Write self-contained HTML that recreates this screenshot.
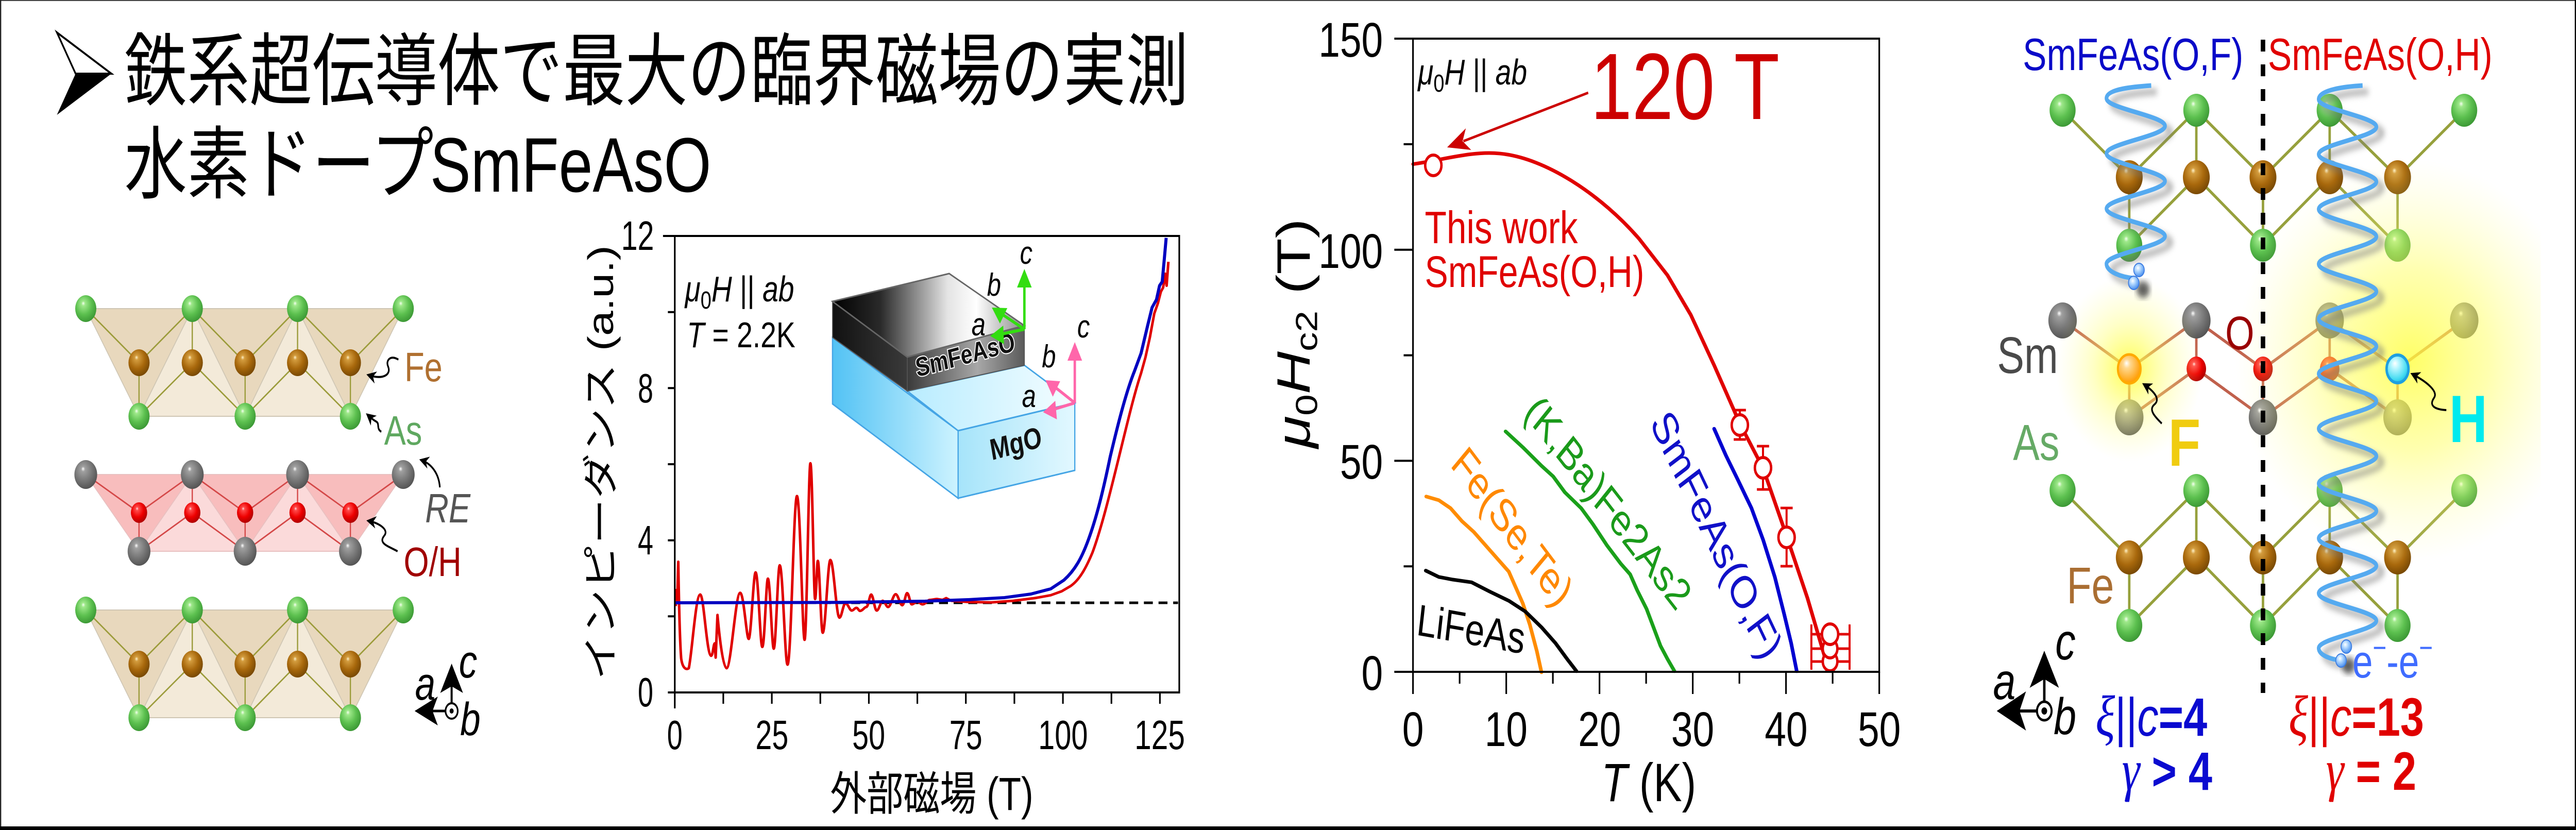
<!DOCTYPE html>
<html><head><meta charset="utf-8">
<style>html,body{margin:0;padding:0;background:#fff;width:100%;height:100%;overflow:hidden}svg{display:block;width:100vw;height:100vh}</style>
</head><body>
<svg xmlns="http://www.w3.org/2000/svg" viewBox="0 0 6337 1611" preserveAspectRatio="none" font-family="'Liberation Sans','Noto Sans CJK JP',sans-serif">
<defs>
<radialGradient id="sg" cx="0.42" cy="0.38" r="0.62" fx="0.38" fy="0.3"><stop offset="0" stop-color="#f6fff2"/><stop offset="0.14" stop-color="#9ee88a"/><stop offset="0.6" stop-color="#5cc04f"/><stop offset="1" stop-color="#3d9a36"/></radialGradient>
<radialGradient id="sb" cx="0.42" cy="0.38" r="0.62" fx="0.38" fy="0.3"><stop offset="0" stop-color="#fff2c8"/><stop offset="0.14" stop-color="#d39c3e"/><stop offset="0.6" stop-color="#a8680c"/><stop offset="1" stop-color="#7a4a04"/></radialGradient>
<radialGradient id="sk" cx="0.42" cy="0.38" r="0.62" fx="0.38" fy="0.3"><stop offset="0" stop-color="#ffffff"/><stop offset="0.14" stop-color="#a0a0a0"/><stop offset="0.6" stop-color="#777"/><stop offset="1" stop-color="#555"/></radialGradient>
<radialGradient id="sr" cx="0.42" cy="0.38" r="0.62" fx="0.38" fy="0.3"><stop offset="0" stop-color="#ffe4e4"/><stop offset="0.14" stop-color="#ff4a4a"/><stop offset="0.6" stop-color="#ee0000"/><stop offset="1" stop-color="#b00000"/></radialGradient>
<radialGradient id="so" cx="0.42" cy="0.38" r="0.62" fx="0.38" fy="0.3"><stop offset="0" stop-color="#ffffff"/><stop offset="0.25" stop-color="#ffd890"/><stop offset="0.75" stop-color="#ffb030"/><stop offset="1" stop-color="#ff9a00"/></radialGradient>
<radialGradient id="sc" cx="0.42" cy="0.38" r="0.62" fx="0.38" fy="0.3"><stop offset="0" stop-color="#ffffff"/><stop offset="0.25" stop-color="#c0f8ff"/><stop offset="0.8" stop-color="#48dcf2"/><stop offset="1" stop-color="#22c4e4"/></radialGradient>
<radialGradient id="se" cx="0.4" cy="0.35" r="0.65"><stop offset="0" stop-color="#ffffff"/><stop offset="0.35" stop-color="#b8dcff"/><stop offset="1" stop-color="#4a90f0"/></radialGradient>
<radialGradient id="gl1" cx="0.5" cy="0.5" r="0.5"><stop offset="0" stop-color="#ffff40" stop-opacity="0.8"/><stop offset="0.45" stop-color="#ffff60" stop-opacity="0.5"/><stop offset="1" stop-color="#ffffa0" stop-opacity="0"/></radialGradient>
<radialGradient id="gl2" cx="0.5" cy="0.5" r="0.5"><stop offset="0" stop-color="#ffff30" stop-opacity="0.85"/><stop offset="0.5" stop-color="#ffff70" stop-opacity="0.4"/><stop offset="1" stop-color="#ffffa0" stop-opacity="0"/></radialGradient>
<linearGradient id="dkTop" gradientUnits="userSpaceOnUse" x1="2048" y1="0" x2="2520" y2="0"><stop offset="0" stop-color="#000"/><stop offset="0.25" stop-color="#2a2a2a"/><stop offset="0.6" stop-color="#e4e4e4"/><stop offset="0.75" stop-color="#fff"/><stop offset="1" stop-color="#8a8a8a"/></linearGradient>
<linearGradient id="dkFront" gradientUnits="userSpaceOnUse" x1="2232" y1="0" x2="2520" y2="0"><stop offset="0" stop-color="#3a3a3a"/><stop offset="0.6" stop-color="#a8a8a8"/><stop offset="1" stop-color="#5a5a5a"/></linearGradient>
<linearGradient id="dkLeft" gradientUnits="userSpaceOnUse" x1="2048" y1="0" x2="2232" y2="0"><stop offset="0" stop-color="#111"/><stop offset="1" stop-color="#3a3a3a"/></linearGradient>
<linearGradient id="cyLeft" gradientUnits="userSpaceOnUse" x1="2048" y1="0" x2="2357" y2="0"><stop offset="0" stop-color="#52c2f4"/><stop offset="1" stop-color="#cdf3ff"/></linearGradient>
<linearGradient id="cyTop" gradientUnits="userSpaceOnUse" x1="2232" y1="0" x2="2644" y2="0"><stop offset="0" stop-color="#b8ecff"/><stop offset="1" stop-color="#f4fdff"/></linearGradient>
<linearGradient id="cyFront" gradientUnits="userSpaceOnUse" x1="2357" y1="0" x2="2644" y2="0"><stop offset="0" stop-color="#a6e4fa"/><stop offset="1" stop-color="#e2f8ff"/></linearGradient>
<marker id="ah" viewBox="0 0 10 10" refX="8" refY="5" markerWidth="6" markerHeight="6" orient="auto" markerUnits="strokeWidth"><path d="M0,0 L10,5 L0,10 L3,5z" fill="#000"/></marker>
<filter id="blur" x="-20%" y="-20%" width="140%" height="140%"><feGaussianBlur stdDeviation="6"/></filter>
<clipPath id="gclip"><rect x="5300" y="300" width="950" height="800"/></clipPath>
</defs>

<rect width="6337" height="1611" fill="#fff"/>

<!-- ===== Title ===== -->
<polygon points="140,63 274,143 186,143" fill="#fff" stroke="#000" stroke-width="4" stroke-linejoin="miter"/>
<polygon points="186,143 274,143 140,223" fill="#000"/>
<text x="306" y="192" font-size="154" font-family="'Noto Sans CJK JP',sans-serif" fill="#000">鉄系超伝導体で最大の臨界磁場の実測</text>
<text x="306" y="373" font-size="154" font-family="'Noto Sans CJK JP',sans-serif" fill="#000">水素ドープ</text>
<text x="1058" y="372" font-size="150" font-family="'Liberation Sans',sans-serif" fill="#000">SmFeAsO</text>

<!-- ===== Panel 1: crystal ===== -->
<g>
 <g id="feas1">
  <polygon points="211,599 473,599 342,808" fill="#e8d8bd"/>
  <polygon points="473,599 342,808 603,808" fill="#f3ead9"/>
  <polygon points="473,599 732,599 603,808" fill="#e8d8bd"/>
  <polygon points="732,599 603,808 862,808" fill="#f3ead9"/>
  <polygon points="732,599 992,599 862,808" fill="#e8d8bd"/>
  <g stroke="#cfc6b4" stroke-width="2" fill="none">
   <polygon points="211,599 992,599 862,808 342,808"/>
   <path d="M473,599 L342,808 M473,599 L603,808 M732,599 L603,808 M732,599 L862,808"/>
  </g>
  <g stroke="#9b9b3a" stroke-width="3">
   <path d="M211,599 L342,704 M473,599 L342,704 M473,599 L473,704 M473,599 L603,704 M732,599 L603,704 M732,599 L732,704 M732,599 L862,704 M992,599 L862,704 M342,704 L342,808 M473,704 L342,808 M473,704 L603,808 M603,704 L603,808 M732,704 L603,808 M732,704 L862,808 M862,704 L862,808"/>
  </g>
  <g fill="url(#sg)"><circle cx="211" cy="599" r="26"/><circle cx="473" cy="599" r="26"/><circle cx="732" cy="599" r="26"/><circle cx="992" cy="599" r="26"/></g>
  <g fill="url(#sb)"><circle cx="342" cy="704" r="26"/><circle cx="473" cy="704" r="26"/><circle cx="603" cy="704" r="26"/><circle cx="732" cy="704" r="26"/><circle cx="862" cy="704" r="26"/></g>
  <g fill="url(#sg)"><circle cx="342" cy="808" r="26"/><circle cx="603" cy="808" r="26"/><circle cx="862" cy="808" r="26"/></g>
 </g>
 <use href="#feas1" transform="translate(0,585)"/>
 <polygon points="211,921 473,921 342,1070" fill="#f8bdbd"/>
 <polygon points="473,921 342,1070 603,1070" fill="#fbdada"/>
 <polygon points="473,921 732,921 603,1070" fill="#f8bdbd"/>
 <polygon points="732,921 603,1070 862,1070" fill="#fbdada"/>
 <polygon points="732,921 992,921 862,1070" fill="#f8bdbd"/>
 <g stroke="#e8c0c0" stroke-width="2" fill="none">
  <polygon points="211,921 992,921 862,1070 342,1070"/>
  <path d="M473,921 L342,1070 M473,921 L603,1070 M732,921 L603,1070 M732,921 L862,1070"/>
 </g>
 <g stroke="#d44848" stroke-width="3">
  <path d="M211,921 L342,995 M473,921 L342,995 M473,921 L473,995 M473,921 L603,995 M732,921 L603,995 M732,921 L732,995 M732,921 L862,995 M992,921 L862,995 M342,995 L342,1070 M473,995 L342,1070 M473,995 L603,1070 M603,995 L603,1070 M732,995 L603,1070 M732,995 L862,1070 M862,995 L862,1070"/>
 </g>
 <g fill="url(#sk)"><circle cx="211" cy="921" r="28"/><circle cx="473" cy="921" r="28"/><circle cx="732" cy="921" r="28"/><circle cx="992" cy="921" r="28"/></g>
 <g fill="url(#sr)"><circle cx="342" cy="995" r="20"/><circle cx="473" cy="995" r="20"/><circle cx="603" cy="995" r="20"/><circle cx="732" cy="995" r="20"/><circle cx="862" cy="995" r="20"/></g>
 <g fill="url(#sk)"><circle cx="342" cy="1070" r="28"/><circle cx="603" cy="1070" r="28"/><circle cx="862" cy="1070" r="28"/></g>
 <text x="995" y="740" font-size="80" fill="#b07030">Fe</text>
 <text x="945" y="863" font-size="80" fill="#5fa860">As</text>
 <text x="1046" y="1014" font-size="80" fill="#555" font-style="italic">RE</text>
 <text x="993" y="1118" font-size="80" fill="#a00000">O/H</text>
 <g fill="none" stroke="#000" stroke-width="4" marker-end="url(#ah)">
  <path d="M980,698 C960,688 948,700 955,712 C962,726 945,738 906,728"/>
  <path d="M938,838 C925,832 935,822 925,818 C918,815 912,811 904,805"/>
  <path d="M1082,946 C1080,920 1062,900 1036,893"/>
  <path d="M978,1070 C955,1060 930,1055 945,1040 C958,1028 932,1015 906,1011"/>
 </g>
 <line x1="1111" y1="1380" x2="1111" y2="1320" stroke="#000" stroke-width="5"/>
 <polygon points="1111,1288 1083,1345 1111,1332 1139,1345" fill="#000"/>
 <line x1="1096" y1="1380" x2="1055" y2="1380" stroke="#000" stroke-width="5"/>
 <polygon points="1020,1380 1077,1352 1064,1380 1077,1408" fill="#000"/>
 <circle cx="1111" cy="1380" r="15" fill="#fff" stroke="#000" stroke-width="4"/>
 <circle cx="1111" cy="1380" r="5" fill="#000"/>
 <text x="1129" y="1315" font-size="90" font-style="italic">c</text>
 <text x="1021" y="1358" font-size="90" font-style="italic">a</text>
 <text x="1132" y="1427" font-size="90" font-style="italic">b</text>
</g>

<!-- ===== Panel 2: impedance ===== -->
<g>
 <polygon points="2048,655 2357,836 2357,967 2048,784" fill="url(#cyLeft)" stroke="#45a5e5" stroke-width="3"/>
 <polygon points="2232,759 2520,709 2644,782 2357,836" fill="url(#cyTop)" stroke="#45a5e5" stroke-width="3"/>
 <polygon points="2357,836 2644,782 2644,913 2357,967" fill="url(#cyFront)" stroke="#45a5e5" stroke-width="3"/>
 <polygon points="2048,585 2232,693 2232,759 2048,655" fill="url(#dkLeft)" stroke="#555" stroke-width="2"/>
 <polygon points="2232,693 2520,632 2520,709 2232,759" fill="url(#dkFront)" stroke="#555" stroke-width="2"/>
 <polygon points="2048,585 2335,531 2520,632 2232,693" fill="url(#dkTop)" stroke="#666" stroke-width="3"/>
 <text transform="translate(2378,706) rotate(-12)" text-anchor="middle" font-size="52" font-weight="bold" fill="#111" stroke="#fff" stroke-width="4" paint-order="stroke">SmFeAsO</text>
 <text transform="translate(2503,880) rotate(-12)" text-anchor="middle" font-size="58" font-weight="bold" fill="#111">MgO</text>
 <g stroke="#33dd11" stroke-width="6" fill="none">
  <path d="M2520,639 L2520,545 M2520,639 L2456,605 M2520,639 L2455,650"/>
 </g>
 <polygon points="2520,522 2502,558 2538,558" fill="#33dd11"/>
 <polygon points="2440,597 2478,598 2460,628" fill="#33dd11"/>
 <polygon points="2436,652 2468,632 2470,668" fill="#33dd11"/>
 <text x="2509" y="512" font-size="62" font-style="italic">c</text>
 <text x="2428" y="574" font-size="62" font-style="italic">b</text>
 <text x="2390" y="651" font-size="62" font-style="italic">a</text>
 <g stroke="#ff66aa" stroke-width="6" fill="none">
  <path d="M2644,782 L2644,688 M2644,782 L2590,748 M2644,782 L2586,796"/>
 </g>
 <polygon points="2644,664 2626,700 2662,700" fill="#ff66aa"/>
 <polygon points="2572,738 2608,740 2590,770" fill="#ff66aa"/>
 <polygon points="2566,800 2596,778 2600,814" fill="#ff66aa"/>
 <text x="2650" y="655" font-size="62" font-style="italic">c</text>
 <text x="2563" y="713" font-size="62" font-style="italic">b</text>
 <text x="2514" y="790" font-size="62" font-style="italic">a</text>

 <line x1="1662" y1="1170" x2="2898" y2="1170" stroke="#000" stroke-width="5" stroke-dasharray="22,14"/>
 <g transform="translate(1640,820) scale(0.44643,0.34439)">
  <path vector-effect="non-scaling-stroke" fill="none" stroke="#e00000" stroke-width="5" stroke-linejoin="round"
   d="M50,1035 L52,945 L58,1010 L64,785 C66,900 70,1200 80,1330 C88,1390 110,1395 122,1385 C140,1300 160,970 185,970 C205,970 220,1310 245,1315 C255,1315 258,1245 265,1245 L270,1325 L280,1085 C290,1200 310,1385 330,1385 C355,1385 380,960 405,960 C425,960 440,1220 452,1220 C465,1220 478,845 490,845 C505,845 515,1265 527,1265 C540,1265 548,880 558,880 C570,880 580,1275 590,1275 C602,1275 612,805 623,805 C640,805 652,1365 666,1365 C686,1365 700,415 718,415 C736,415 748,1225 760,1225 C772,1225 782,230 792,230 C803,230 810,995 818,995 C824,995 828,780 833,780 C842,780 850,1185 860,1185 C875,1185 888,775 902,775 C920,775 935,1100 952,1100 C965,1100 972,1020 985,1020 C1000,1020 1008,1060 1020,1060 C1030,1060 1036,1045 1045,1045 C1055,1045 1058,1062 1065,1062 C1080,1062 1090,1040 1100,1040 C1112,1040 1118,970 1127,970 C1138,970 1146,1060 1157,1060 C1170,1060 1180,1005 1190,1005 C1202,1005 1210,1040 1220,1040 C1235,1040 1248,968 1262,968 C1275,968 1286,1030 1298,1030 C1310,1030 1316,962 1325,962 C1335,962 1342,1025 1350,1025 C1362,1025 1370,1010 1380,1010 C1392,1010 1400,1025 1410,1025 C1425,1025 1438,1000 1450,1000 C1465,1000 1478,995 1490,995 L1520,1000 L1540,990 L1568,1005"/>
 </g>
 <g transform="translate(1300,400) scale(1.08418,0.77232)" fill="none" stroke-linejoin="round">
  <path vector-effect="non-scaling-stroke" stroke="#e00000" stroke-width="5"
   d="M959,992 L1000,995 L1050,996 L1100,992 L1150,985 L1185,978 L1210,968 L1230,955 C1250,940 1265,910 1280,870 C1300,810 1320,720 1340,630 C1360,540 1375,470 1390,420 L1400,380 L1410,330 L1420,270 L1428,245 L1435,215 L1440,205 L1445,170 L1448,200 L1452,140"/>
  <path vector-effect="non-scaling-stroke" stroke="#0000c0" stroke-width="6"
   d="M332,997 L700,996 L900,993 L1000,989 L1080,984 L1140,975 L1185,962 L1215,940 C1240,915 1255,885 1270,840 C1290,780 1305,710 1320,630 C1335,560 1355,470 1375,415 L1390,370 L1405,300 L1415,255 L1425,235 L1432,200 L1438,190 L1443,130 L1447,80"/>
 </g>
 <rect x="1660" y="458" width="1241" height="886" fill="none" stroke="#000" stroke-width="4"/>
 <line x1="1660" y1="1344" x2="1660" y2="1375" stroke="#000" stroke-width="4"/>
 <g stroke="#000" stroke-width="4">
  <path d="M1643,1344 H1660 M1643,1196.3 H1660 M1643,1048.7 H1660 M1643,901 H1660 M1643,753.3 H1660 M1643,605.7 H1660 M1631,458 H1660"/>
  <path d="M1779.3,1344 V1366 M1898.7,1344 V1366 M2018,1344 V1366 M2137.4,1344 V1366 M2256.7,1344 V1366 M2376,1344 V1366 M2495.4,1344 V1366 M2614.8,1344 V1366 M2734.1,1344 V1366 M2853.4,1344 V1366"/>
 </g>
 <g font-size="80" text-anchor="end">
  <text x="1607" y="1371" textLength="38" lengthAdjust="spacingAndGlyphs">0</text>
  <text x="1607" y="1076" textLength="38" lengthAdjust="spacingAndGlyphs">4</text>
  <text x="1607" y="781" textLength="38" lengthAdjust="spacingAndGlyphs">8</text>
  <text x="1609" y="485" textLength="81" lengthAdjust="spacingAndGlyphs">12</text>
 </g>
 <g font-size="80" text-anchor="middle">
  <text x="1660" y="1454" textLength="38" lengthAdjust="spacingAndGlyphs">0</text>
  <text x="1899" y="1454" textLength="81" lengthAdjust="spacingAndGlyphs">25</text>
  <text x="2137" y="1454" textLength="81" lengthAdjust="spacingAndGlyphs">50</text>
  <text x="2376" y="1454" textLength="81" lengthAdjust="spacingAndGlyphs">75</text>
  <text x="2615" y="1454" textLength="122" lengthAdjust="spacingAndGlyphs">100</text>
  <text x="2853" y="1454" textLength="124" lengthAdjust="spacingAndGlyphs">125</text>
 </g>
 <text x="2292" y="1572" font-size="90" text-anchor="middle">外部磁場 (T)</text>
 <text transform="translate(1508,898) rotate(-90)" font-size="88" text-anchor="middle">インピーダンス (a.u.)</text>
 <text x="1685" y="585" font-size="70"><tspan font-style="italic">μ</tspan><tspan font-size="48" dy="14">0</tspan><tspan font-style="italic" dy="-14">H</tspan> || <tspan font-style="italic">ab</tspan></text>
 <text x="1690" y="674" font-size="70"><tspan font-style="italic">T</tspan> = 2.2K</text>
</g>

<!-- ===== Panel 3: Hc2 vs T ===== -->
<g>
 <g transform="translate(3000,0) scale(1.14796,1.02742)" fill="none" stroke-linejoin="round" stroke-linecap="round">
  <path vector-effect="non-scaling-stroke" stroke="#1aa01a" stroke-width="7" d="M613,815 L650,845 L690,880 L715,900 L740,930 L775,960 L800,990 L830,1030 L860,1065 L880,1085 L895,1115 L915,1150 L930,1185 L945,1220 L960,1245 L975,1268"/>
  <path vector-effect="non-scaling-stroke" stroke="#ff8c00" stroke-width="7" d="M443,938 L470,945 L495,960 L520,985 L545,1005 L575,1035 L600,1060 L620,1080 L635,1110 L650,1140 L665,1180 L680,1230 L690,1270"/>
  <path vector-effect="non-scaling-stroke" stroke="#000" stroke-width="7" d="M442,1078 L470,1090 L500,1095 L540,1100 L580,1118 L620,1135 L655,1155 L690,1185 L720,1215 L745,1245 L765,1268"/>
  <path vector-effect="non-scaling-stroke" stroke="#0000d0" stroke-width="7" d="M1060,810 L1085,860 L1110,905 L1140,960 L1165,1020 L1190,1090 L1210,1160 L1225,1215 L1237,1268"/>
  <path vector-effect="non-scaling-stroke" stroke="#e00000" stroke-width="7" d="M415,310 C480,302 540,285 600,290 C700,298 820,370 900,452 L960,520 L1010,595 L1060,690 L1115,800 L1165,885 L1215,1012 L1260,1130 L1300,1250"/>
 </g>
 <g stroke="#e00000" stroke-width="5" fill="none">
  <path d="M4280,796 V853 M4265,796 H4295 M4265,853 H4295"/>
  <path d="M4337,866 V950 M4322,866 H4352 M4322,950 H4352"/>
  <path d="M4395,986 V1099 M4380,986 H4410 M4380,1099 H4410"/>
  <path d="M4456,1231 H4550 M4456,1259 H4550 M4456,1284 H4550 M4456,1212 V1300 M4550,1212 V1300 M4502,1210 V1300"/>
 </g>
 <g fill="#fff" stroke="#e00000" stroke-width="6">
  <circle cx="3526" cy="321" r="20"/>
  <circle cx="4280" cy="825" r="20"/>
  <circle cx="4337" cy="908" r="20"/>
  <circle cx="4395" cy="1043" r="20"/>
  <circle cx="4502" cy="1284" r="18"/>
  <circle cx="4502" cy="1259" r="18"/>
  <circle cx="4502" cy="1231" r="20"/>
 </g>
 <line x1="3907" y1="180" x2="3600" y2="274" stroke="#cc0000" stroke-width="5"/>
 <polygon points="3560,286 3606,249 3598,274 3619,291" fill="#cc0000"/>
 <text x="3913" y="231" font-size="183" fill="#cc0000">120 T</text>
 <text x="3488" y="164" font-size="70"><tspan font-style="italic">μ</tspan><tspan font-size="48" dy="14">0</tspan><tspan font-style="italic" dy="-14">H</tspan> || <tspan font-style="italic">ab</tspan></text>
 <text x="3505" y="472" font-size="88" fill="#e00000">This work</text>
 <text x="3505" y="557" font-size="86" fill="#e00000">SmFeAs(O,H)</text>
 <text transform="translate(3956,976) rotate(45.5)" text-anchor="middle" dominant-baseline="central" font-size="86" fill="#1a9a1a">(K,Ba)Fe2As2</text>
 <text transform="translate(3721,1022) rotate(46.4)" text-anchor="middle" dominant-baseline="central" font-size="88" fill="#ff8800">Fe(Se,Te)</text>
 <text transform="translate(4223,1038) rotate(59)" text-anchor="middle" dominant-baseline="central" font-size="88" fill="#1010c8">SmFeAs(O,F)</text>
 <text transform="translate(3619,1222) rotate(8)" text-anchor="middle" dominant-baseline="central" font-size="86" fill="#000">LiFeAs</text>
 <rect x="3476" y="75" width="1147" height="1229" fill="none" stroke="#000" stroke-width="4"/>
 <g stroke="#000" stroke-width="4">
  <path d="M3430,1304 H3476 M3453,1099.2 H3476 M3430,894.4 H3476 M3453,689.6 H3476 M3430,484.7 H3476 M3453,279.9 H3476 M3430,75 H3476"/>
  <path d="M3476,1304 V1347 M3590.7,1304 V1327 M3705.4,1304 V1347 M3820.1,1304 V1327 M3934.8,1304 V1347 M4049.5,1304 V1327 M4164.2,1304 V1347 M4278.9,1304 V1327 M4393.6,1304 V1347 M4508.3,1304 V1327 M4623,1304 V1347"/>
 </g>
 <g font-size="95" text-anchor="end">
  <text x="3402" y="1339">0</text>
  <text x="3402" y="929">50</text>
  <text x="3402" y="520">100</text>
  <text x="3402" y="110">150</text>
 </g>
 <g font-size="95" text-anchor="middle">
  <text x="3476" y="1448">0</text>
  <text x="3705" y="1448">10</text>
  <text x="3935" y="1448">20</text>
  <text x="4164" y="1448">30</text>
  <text x="4394" y="1448">40</text>
  <text x="4623" y="1448">50</text>
 </g>
 <text x="4056" y="1555" font-size="105" text-anchor="middle"><tspan font-style="italic">T</tspan> (K)</text>
 <text transform="translate(3222,647) rotate(-90)" font-size="115" text-anchor="middle"><tspan font-style="italic">μ</tspan><tspan font-size="75" dy="18">0</tspan><tspan font-style="italic" dy="-18">H</tspan><tspan font-size="75" dy="18">c2</tspan><tspan dy="-18"> (T)</tspan></text>
</g>

<!-- ===== Panel 4: schematic ===== -->
<g>
 <g id="feas4">
  <path stroke="#96a03c" stroke-width="6" fill="none" d="M5074,214 L5238,344 M5403,214 L5238,344 M5403,214 L5403,344 M5403,214 L5567,344 M5731,214 L5567,344 M5731,214 L5731,344 M5731,214 L5898,344 M6062,214 L5898,344 M5238,344 L5238,476 M5403,344 L5238,476 M5403,344 L5567,476 M5567,344 L5567,476 M5731,344 L5567,476 M5731,344 L5898,476 M5898,344 L5898,476"/>
  <g fill="url(#sg)"><circle cx="5074" cy="214" r="32"/><circle cx="5403" cy="214" r="32"/><circle cx="5731" cy="214" r="32"/><circle cx="6062" cy="214" r="32"/></g>
  <g fill="url(#sb)"><circle cx="5238" cy="344" r="33"/><circle cx="5403" cy="344" r="33"/><circle cx="5567" cy="344" r="33"/><circle cx="5731" cy="344" r="33"/><circle cx="5898" cy="344" r="33"/></g>
  <g fill="url(#sg)"><circle cx="5238" cy="476" r="32"/><circle cx="5567" cy="476" r="32"/><circle cx="5898" cy="476" r="32"/></g>
 </g>
 <use href="#feas4" transform="translate(0,738)"/>
 <path stroke="#c0604c" stroke-width="6" fill="none" d="M5074,622 L5238,716 M5403,622 L5238,716 M5403,622 L5403,716 M5403,622 L5567,716 M5731,622 L5567,716 M5731,622 L5731,716 M5731,622 L5898,716 M6062,622 L5898,716 M5238,716 L5238,810 M5403,716 L5238,810 M5403,716 L5567,810 M5567,716 L5567,810 M5731,716 L5567,810 M5731,716 L5898,810 M5898,716 L5898,810"/>
 <g fill="url(#sk)"><circle cx="5074" cy="622" r="35"/><circle cx="5403" cy="622" r="35"/><circle cx="5731" cy="622" r="35"/><circle cx="6062" cy="622" r="35"/><circle cx="5238" cy="810" r="35"/><circle cx="5567" cy="810" r="35"/><circle cx="5898" cy="810" r="35"/></g>
 <g fill="url(#sr)"><circle cx="5403" cy="716" r="24"/><circle cx="5567" cy="716" r="24"/><circle cx="5731" cy="716" r="24"/></g>
 <ellipse cx="5930" cy="700" rx="430" ry="390" fill="url(#gl1)" clip-path="url(#gclip)"/>
 <circle cx="5238" cy="716" r="180" fill="url(#gl2)"/>
 <circle cx="5238" cy="716" r="28" fill="url(#so)" stroke="#ffaa00" stroke-width="5"/>
 <circle cx="5898" cy="716" r="27" fill="url(#sc)" stroke="#1ea0e0" stroke-width="6"/>
 <g transform="translate(14,12)" fill="none" stroke="#777" stroke-width="12" opacity="0.55" filter="url(#blur)">
  <path d="M5292,166 C5255,168 5182,172 5182,191 C5182,210.5 5326,225 5326,244.5 C5326,264 5182,278.5 5182,298 C5182,317.5 5326,332 5326,351.5 C5326,371 5182,385.5 5182,405 C5182,424.5 5326,439 5326,458.5 C5326,478 5182,492.5 5182,512 C5182,528 5220,538 5248,540"/>
  <path d="M5812,166 C5770,168 5704,174 5704,193 C5704,212.4 5846,226.85 5846,246.25 C5846,265.65 5704,280.1 5704,299.5 C5704,318.9 5846,333.35 5846,352.75 C5846,372.15 5704,386.6 5704,406 C5704,425.4 5846,439.85 5846,459.25 C5846,478.65 5704,493.1 5704,512.5 C5704,531.9 5846,546.35 5846,565.75 C5846,585.15 5704,599.6 5704,619 C5704,638.4 5846,652.85 5846,672.25 C5846,691.65 5704,706.1 5704,725.5 C5704,744.9 5846,759.35 5846,778.75 C5846,798.15 5704,812.6 5704,832 C5704,851.4 5846,865.85 5846,885.25 C5846,904.65 5704,919.1 5704,938.5 C5704,957.9 5846,972.35 5846,991.75 C5846,1011.15 5704,1025.6 5704,1045 C5704,1064.4 5846,1078.85 5846,1098.25 C5846,1117.65 5704,1132.1 5704,1151.5 C5704,1170.9 5846,1185.35 5846,1204.75 C5846,1224.15 5704,1238.6 5704,1258 C5704,1272 5735,1280 5760,1282"/>
 </g>
 <circle cx="5272" cy="562" r="16" fill="#222" opacity="0.7" filter="url(#blur)"/>
 <circle cx="5778" cy="1292" r="16" fill="#222" opacity="0.7" filter="url(#blur)"/>
 <g fill="none" stroke="#55aaf0" stroke-width="9">
  <path d="M5292,166 C5255,168 5182,172 5182,191 C5182,210.5 5326,225 5326,244.5 C5326,264 5182,278.5 5182,298 C5182,317.5 5326,332 5326,351.5 C5326,371 5182,385.5 5182,405 C5182,424.5 5326,439 5326,458.5 C5326,478 5182,492.5 5182,512 C5182,528 5220,538 5248,540"/>
  <path d="M5812,166 C5770,168 5704,174 5704,193 C5704,212.4 5846,226.85 5846,246.25 C5846,265.65 5704,280.1 5704,299.5 C5704,318.9 5846,333.35 5846,352.75 C5846,372.15 5704,386.6 5704,406 C5704,425.4 5846,439.85 5846,459.25 C5846,478.65 5704,493.1 5704,512.5 C5704,531.9 5846,546.35 5846,565.75 C5846,585.15 5704,599.6 5704,619 C5704,638.4 5846,652.85 5846,672.25 C5846,691.65 5704,706.1 5704,725.5 C5704,744.9 5846,759.35 5846,778.75 C5846,798.15 5704,812.6 5704,832 C5704,851.4 5846,865.85 5846,885.25 C5846,904.65 5704,919.1 5704,938.5 C5704,957.9 5846,972.35 5846,991.75 C5846,1011.15 5704,1025.6 5704,1045 C5704,1064.4 5846,1078.85 5846,1098.25 C5846,1117.65 5704,1132.1 5704,1151.5 C5704,1170.9 5846,1185.35 5846,1204.75 C5846,1224.15 5704,1238.6 5704,1258 C5704,1272 5735,1280 5760,1282"/>
 </g>
 <g fill="url(#se)" stroke="#3a7ae0" stroke-width="2">
  <circle cx="5262" cy="524" r="13"/><circle cx="5249" cy="549" r="13"/>
  <circle cx="5772" cy="1255" r="13"/><circle cx="5759" cy="1282" r="13"/>
 </g>
 <line x1="5567" y1="77" x2="5567" y2="1345" stroke="#000" stroke-width="11" stroke-dasharray="23,25"/>
 <text x="4976" y="136" font-size="88" fill="#0a0ac8">SmFeAs(O,F)</text>
 <text x="5579" y="136" font-size="88" fill="#e00000">SmFeAs(O,H)</text>
 <text x="4913" y="724" font-size="100" fill="#4a4a4a">Sm</text>
 <text x="4952" y="893" font-size="98" fill="#66aa66">As</text>
 <text x="5084" y="1171" font-size="100" fill="#aa6e32">Fe</text>
 <text x="5474" y="678" font-size="92" fill="#990000">O</text>
 <text x="5334" y="904" font-size="130" font-weight="bold" fill="#f0cc10">F</text>
 <text x="6025" y="858" font-size="130" font-weight="bold" fill="#00eaee">H</text>
 <g fill="none" stroke="#000" stroke-width="4" marker-end="url(#ah)">
  <path d="M5318,822 C5300,808 5285,795 5300,785 C5315,775 5300,760 5274,746"/>
  <path d="M6018,796 C5996,795 5972,790 5988,772 C5998,760 5972,742 5934,726"/>
 </g>
 <text x="5787" y="1315" font-size="90" fill="#3f6cff">e<tspan font-size="58" dy="-38">−</tspan><tspan dy="38">-e</tspan><tspan font-size="58" dy="-38">−</tspan></text>
 <line x1="5029" y1="1380" x2="5029" y2="1315" stroke="#000" stroke-width="6"/>
 <polygon points="5029,1263 4993,1335 5029,1318 5065,1335" fill="#000"/>
 <line x1="5012" y1="1380" x2="4965" y2="1380" stroke="#000" stroke-width="6"/>
 <polygon points="4912,1380 4984,1342 4968,1380 4984,1418" fill="#000"/>
 <circle cx="5029" cy="1380" r="18" fill="#fff" stroke="#000" stroke-width="5"/>
 <circle cx="5029" cy="1380" r="7" fill="#000"/>
 <text x="5056" y="1280" font-size="100" font-style="italic">c</text>
 <text x="4903" y="1357" font-size="100" font-style="italic">a</text>
 <text x="5052" y="1425" font-size="100" font-style="italic">b</text>
 <text x="5155" y="1428" font-size="105" fill="#0a0ad0"><tspan font-family="'Liberation Serif',serif" font-style="italic" font-size="112">ξ</tspan>||<tspan font-style="italic">c</tspan><tspan font-weight="bold">=4</tspan></text>
 <text x="5220" y="1533" font-size="105" fill="#0a0ad0"><tspan font-family="'Liberation Serif',serif" font-style="italic" font-size="112">γ</tspan> <tspan font-weight="bold">&gt; 4</tspan></text>
 <text x="5630" y="1428" font-size="105" fill="#e00000"><tspan font-family="'Liberation Serif',serif" font-style="italic" font-size="112">ξ</tspan>||<tspan font-style="italic">c</tspan><tspan font-weight="bold">=13</tspan></text>
 <text x="5722" y="1533" font-size="105" fill="#e00000"><tspan font-family="'Liberation Serif',serif" font-style="italic" font-size="112">γ</tspan> <tspan font-weight="bold">= 2</tspan></text>
</g>

<rect x="0" y="0" width="6337" height="2" fill="#444"/>
<rect x="0" y="0" width="3" height="1611" fill="#222"/>
<rect x="6334" y="0" width="3" height="1611" fill="#000"/>
<rect x="0" y="1604" width="6337" height="7" fill="#000"/>
</svg>
</body></html>
